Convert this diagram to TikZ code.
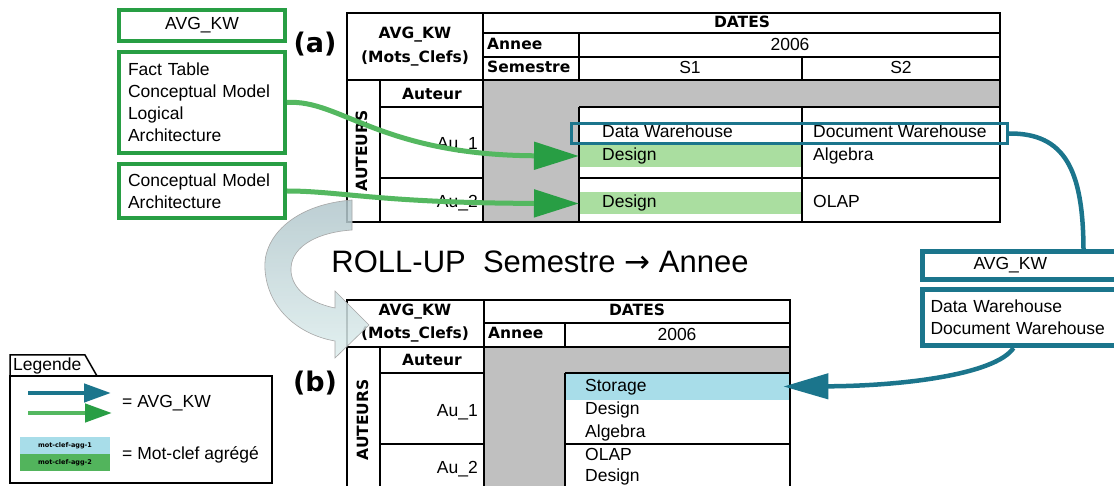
\documentclass[tikz,border=0pt]{standalone}
\usepackage{fontspec}
\setmainfont{Liberation Sans}
\newfontfamily\hdfont{DejaVu Sans}
\usetikzlibrary{arrows.meta, positioning, calc}
\definecolor{kwgreen}{RGB}{40,158,68}
\definecolor{kwgreenline}{RGB}{84,184,96}
\definecolor{kwgreen20}{RGB}{170,222,160}
\definecolor{kwgreenagg}{RGB}{82,180,92}
\definecolor{kwteal}{RGB}{27,117,140}
\definecolor{kwteal20}{RGB}{168,221,233}
\definecolor{cubegray}{RGB}{192,192,192}
\definecolor{rollup}{RGB}{178,199,204}
\definecolor{rollup20}{RGB}{222,238,238}

\tikzset{
  txt/.style={font=\fontsize{17.5}{22}\selectfont, inner sep=0pt, text height=12.5pt, text depth=3.5pt},
  hdr/.style={font=\hdfont\bfseries\fontsize{15.5}{18}\selectfont, inner sep=0pt, text height=11pt, text depth=3pt},
  gridline/.style={line width=1.6pt},
  hlcell/.style={txt, align=left, minimum height=22pt, inner ysep=0pt, anchor=west},
  greenbox/.style={draw=kwgreen, line width=4pt, fill=white, inner xsep=9pt, align=left,
    text width=148pt, font=\fontsize{17.5}{22}\selectfont},
  tealbox/.style={draw=kwteal, line width=5pt, fill=white, align=left, anchor=west,
    font=\fontsize{17.5}{22}\selectfont},
  greenlink/.style={kwgreenline, line width=5pt, -{Triangle[length=45pt, width=27pt, color=kwgreen]}},
  teallink/.style={kwteal, line width=4.5pt},
  biglabel/.style={font=\hdfont\bfseries\fontsize{27}{30}\selectfont, inner sep=0pt}
}

\begin{document}
\begin{tikzpicture}[x=1pt, y=-1pt]
  \useasboundingbox (0,0) rectangle (1114,486);
  \clip (0,0) rectangle (1114,486);
  \fill[white] (0,0) rectangle (1114,486);

  % ---- Cube (a): backgrounds ----
  \fill[cubegray] (483,80) rectangle (1000,107);
  \fill[cubegray] (483,107) rectangle (579,222);
  \node[hlcell, fill=kwgreen20, text width=177pt, inner xsep=23pt] (hlA1) at (579,156) {Design};
  \node[hlcell, fill=kwgreen20, text width=177pt, inner xsep=23pt] (hlA2) at (579,203.5) {Design};

  % ---- Cube (a): grid ----
  \draw[line width=2.5pt] (347,13) rectangle (1000,222);
  \draw[gridline] (483,13) -- (483,222)
    (483,33) -- (1000,33)
    (483,57) -- (1000,57)
    (579,33) -- (579,80)
    (802,57) -- (802,80)
    (347,80) -- (1000,80)
    (380,80) -- (380,222)
    (380,107) -- (483,107)
    (579,107) -- (1000,107)
    (579,107) -- (579,222)
    (802,107) -- (802,222)
    (380,178) -- (483,178)
    (579,178) -- (1000,178);

  % ---- Cube (a): headers and cells ----
  \node[hdr] (hdA) at (415,35) {AVG\_KW};
  \node[hdr] (mcA) at (415,59) {(Mots\_Clefs)};
  \node[hdr] (datesA) at (742,24) {DATES};
  \node[hdr, anchor=west] (anneeA) at (487,46) {Annee};
  \node[txt] (yearA) at (790,46) {2006};
  \node[hdr, anchor=west] (semA) at (487,69) {Semestre};
  \node[txt] (s1A) at (690,69) {S1};
  \node[txt] (s2A) at (901,69) {S2};
  \node[hdr] (authA) at (432,96) {Auteur};
  \node[hdr, rotate=90] (autA) at (363,151) {AUTEURS};
  \node[txt, anchor=east] (au1A) at (478,145) {Au\_1};
  \node[txt, anchor=east] (au2A) at (478,203) {Au\_2};
  \node[txt, anchor=west] (dwA) at (602,133) {Data Warehouse};
  \node[txt, anchor=west] (docA) at (813,133) {Document Warehouse};
  \node[txt, anchor=west] (algA) at (813,156) {Algebra};
  \node[txt, anchor=west] (olapA) at (813,203) {OLAP};
  \node[draw=kwteal, line width=3pt, minimum width=436pt, minimum height=20pt, inner sep=0pt] (dwbox) at (789.5,133.5) {};

  % ---- Cube (b): backgrounds ----
  \fill[cubegray] (484,347) rectangle (790,373);
  \fill[cubegray] (484,373) rectangle (565,495);
  \node[hlcell, fill=kwteal20, text width=185pt, inner xsep=20pt, minimum height=27pt] (stor) at (565,386.5) {Storage};

  % ---- Cube (b): grid ----
  \draw[line width=2.5pt] (347,300) rectangle (790,495);
  \draw[gridline] (484,300) -- (484,495)
    (484,323) -- (790,323)
    (565,323) -- (565,347)
    (347,347) -- (790,347)
    (380,347) -- (380,495)
    (380,373) -- (484,373)
    (565,373) -- (790,373)
    (565,373) -- (565,495)
    (380,444) -- (484,444)
    (565,444) -- (790,444);

  % ---- Cube (b): headers and cells ----
  \node[hdr] (hdB) at (415,312) {AVG\_KW};
  \node[hdr] (mcB) at (415,335) {(Mots\_Clefs)};
  \node[hdr] (datesB) at (637,312) {DATES};
  \node[hdr, anchor=west] (anneeB) at (488,335) {Annee};
  \node[txt] (yearB) at (677,336) {2006};
  \node[hdr] (authB) at (432,361) {Auteur};
  \node[hdr, rotate=90] (autB) at (364,420) {AUTEURS};
  \node[txt, anchor=east] (au1B) at (478,412) {Au\_1};
  \node[txt, anchor=east] (au2B) at (478,469) {Au\_2};
  \node[txt, anchor=west] (desB1) at (585,410) {Design};
  \node[txt, anchor=west] (algB) at (585,433) {Algebra};
  \node[txt, anchor=west] (olapB) at (585,456) {OLAP};
  \node[txt, anchor=west] (desB2) at (585,477) {Design};

  % ---- Roll-up arrow ----
  \shade[top color=rollup, bottom color=rollup20, draw=gray!70, line width=0.6pt, fill opacity=0.85]
    (352,200) .. controls (290,205) and (262,240) .. (265,270)
    .. controls (268,310) and (300,335) .. (335,341)
    -- (335,358) -- (369,325) -- (335,291) -- (335,308)
    .. controls (305,302) and (290,285) .. (291,268)
    .. controls (292,245) and (320,232) .. (352,230) -- cycle;
  \node[font=\fontsize{31}{36}\selectfont, inner sep=0pt] (roll) at (540,262) {ROLL-UP\ \ Semestre {\hdfont →} Annee};

  % ---- Keyword boxes (green) ----
  \node[greenbox, align=center, minimum height=31pt] (kwA) at (202,25.5) {AVG\_KW};
  \node[greenbox, minimum height=101pt] (factA) at (202,102.5) {Fact Table\\Conceptual Model\\Logical\\Architecture};
  \node[greenbox, minimum height=54pt] (factB) at (202,191) {Conceptual Model\\Architecture};

  % ---- Keyword boxes (teal) ----
  \node[tealbox, minimum height=28pt, inner xsep=4.5pt, text width=221pt] (avgR) at (919.5,265.5) {\hspace*{47pt}AVG\_KW};
  \node[tealbox, minimum height=56pt, inner xsep=8.5pt, text width=213pt] (dataR) at (919.5,317.5) {Data Warehouse\\Document Warehouse};

  % ---- Links ----
  \draw[greenlink] (factA.east) .. controls (340,99) and (380,155) .. (hlA1.west);
  \draw[greenlink] (factB.east) .. controls (340,191) and (380,203) .. (hlA2.west);
  \draw[teallink] (dwbox.east) .. controls (1065,133) and (1083,170) .. ($(avgR.north west)+(164,0)$);
  \draw[teallink, -{Triangle[length=45pt, width=25pt]}] ($(dataR.south west)+(94,0)$)
    .. controls (995,375) and (900,386) .. ([xshift=-7pt]stor.east);

  % ---- Labels ----
  \node[biglabel] (labA) at (315,44) {(a)};
  \node[biglabel] (labB) at (315,383) {(b)};

  % ---- Legend ----
  \draw[line width=1.5pt] (10,376) -- (10,355) -- (85,355) -- (97,376);
  \draw[line width=1.8pt] (10,376) rectangle (272,483);
  \node[font=\fontsize{17.5}{22}\selectfont, inner sep=0pt, anchor=west] (lgTitle) at (13,366) {Legende};
  \coordinate (lgT1) at (28,393);
  \coordinate (lgT2) at (111,393);
  \coordinate (lgG1) at (28,413);
  \coordinate (lgG2) at (112,413);
  \draw[kwteal, line width=4.5pt, -{Triangle[length=27pt, width=18pt]}] (lgT1) -- (lgT2);
  \draw[kwgreenline, line width=4.5pt, -{Triangle[length=27pt, width=18pt, color=kwgreen]}] (lgG1) -- (lgG2);
  \node[txt, anchor=west] (lgKw) at (122,403) {= AVG\_KW};
  \node[fill=kwteal20, minimum width=90pt, minimum height=17pt, inner sep=0pt,
    font=\hdfont\bfseries\fontsize{6.5}{8}\selectfont] (sw1) at (65,445.5) {mot-clef-agg-1};
  \node[fill=kwgreenagg, minimum width=90pt, minimum height=17pt, inner sep=0pt,
    font=\hdfont\bfseries\fontsize{6.5}{8}\selectfont, below=0pt of sw1] (sw2) {mot-clef-agg-2};
  \node[txt, anchor=west] (lgAgg) at (122,455) {= Mot-clef agrégé};
\end{tikzpicture}
\end{document}
